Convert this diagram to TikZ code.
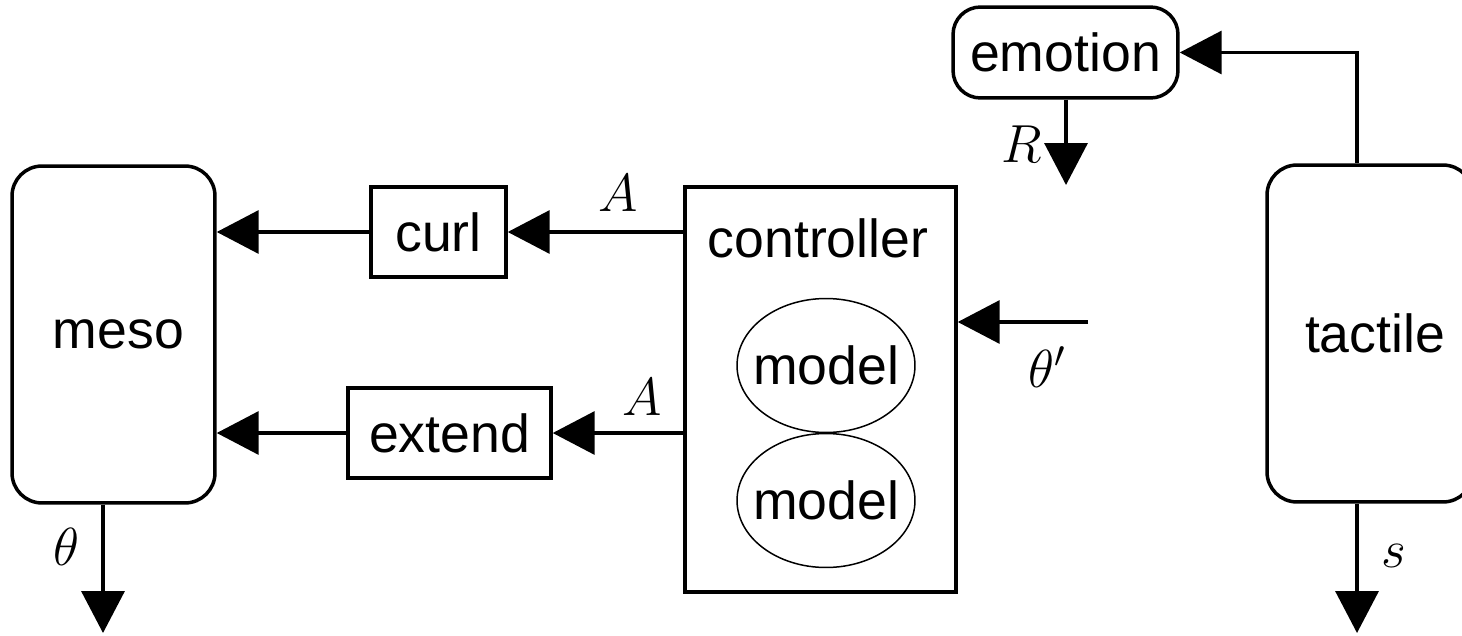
\RequirePackage{fix-cm}
\documentclass[tikz,border=0pt]{standalone}
\usepackage{fontspec}
\setmainfont{Liberation Sans}
\usetikzlibrary{arrows.meta,shapes.geometric}
\begin{document}
\begin{tikzpicture}[x=0.02cm,y=-0.02cm,
  font=\fontsize{30.5}{36}\selectfont,
  every node/.style={inner sep=0pt},
  thick box/.style={draw,line width=0.07cm},
  rbox/.style={thick box,rounded corners=0.6cm},
  sbox/.style={thick box},
  modelnode/.style={minimum width=3.56cm,minimum height=2.68cm},
  modelring/.style={line width=0.03cm},
  arr/.style={line width=0.07cm,-{Triangle[length=0.84cm,width=0.86cm]}}]
\useasboundingbox (0,0) rectangle (1462,635);
% nodes
\node[rbox,minimum width=4.06cm,minimum height=6.74cm] (meso) at (113.5,334.5) {\hspace{0.2cm}meso};
\node[rbox,minimum width=4.12cm,minimum height=6.74cm] (tactile) at (1370,333.5) {\hspace{0.2cm}tactile};
\node[rbox,rounded corners=0.55cm,minimum width=4.5cm,minimum height=1.82cm] (emotion) at (1065.5,52.5) {emotion};
\node[sbox,minimum width=2.7cm,minimum height=1.8cm] (curl) at (438.5,232) {curl};
\node[sbox,minimum width=4.06cm,minimum height=1.8cm] (extend) at (449.5,433) {extend};
\node[sbox,minimum width=5.42cm,minimum height=8.1cm] (controller) at (820.5,389.5) {};
\node (ctext) at (818,238) {controller};
\node[modelnode] (model1) at (826,365.5) {model};
\node[modelnode] (model2) at (826,500.5) {model};
\draw[modelring] (model1.center) ellipse [x radius=1.78cm, y radius=1.34cm];
\draw[modelring] (model2.center) ellipse [x radius=1.78cm, y radius=1.34cm];
% free ends
\coordinate (thetaout) at (103,633);
\coordinate (sout) at (1357,633);
\coordinate (Rout) at (1066,185);
\coordinate (thetapin) at (1088,322);
\coordinate (corner) at (1357,52.5);
% connectors
\draw[arr] (controller.west |- curl.east) -- (curl.east);
\draw[arr] (curl.west) -- (meso.east |- curl.west);
\draw[arr] (controller.west |- extend.east) -- (extend.east);
\draw[arr] (extend.west) -- (meso.east |- extend.west);
\draw[arr] (thetapin) -- (controller.east |- thetapin);
\draw[arr] (meso.south -| thetaout) -- (thetaout);
\draw[arr] (tactile.south -| sout) -- (sout);
\draw[arr] (emotion.south -| Rout) -- (Rout);
\draw[arr] (tactile.north -| corner) -- (corner) -- (emotion.east);
% labels
\node (lA1) at (618,193) {$A$};
\node (lA2) at (642,397) {$A$};
\node (lR) at (1022,144) {$R$};
\node (ltp) at (1047,367) {$\theta'$};
\node (lth) at (66,547) {$\theta$};
\node (ls) at (1394,556) {$s$};
\end{tikzpicture}
\end{document}
